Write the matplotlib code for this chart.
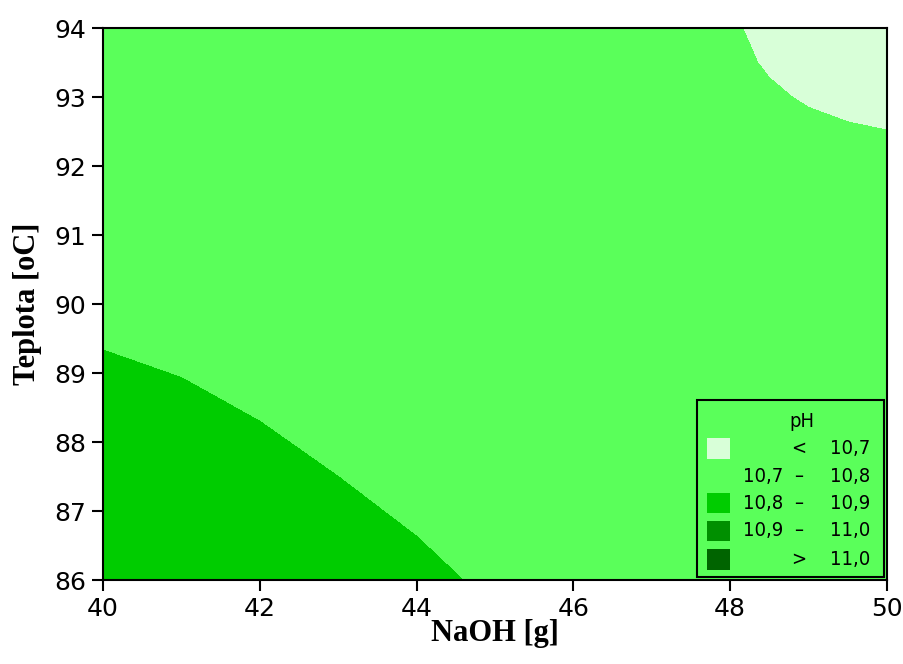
import numpy as np
import matplotlib.pyplot as plt
from matplotlib.patches import Rectangle

# grid of NaOH [g] and teplota [oC]; denser near the top-right corner
naoh = [40, 41, 42, 43, 44, 45, 46, 47, 48, 48.5, 49, 49.5, 50]
teplota = [86, 87, 88, 89, 90, 91, 92, 92.5, 93, 93.5, 94]

# pH at grid nodes, one row per temperature (86 -> 94)
ph = [
    [10.895, 10.888, 10.869, 10.845, 10.819, 10.787, 10.775, 10.770, 10.765, 10.762, 10.760, 10.758, 10.755],
    [10.870, 10.858, 10.839, 10.815, 10.789, 10.780, 10.770, 10.765, 10.760, 10.758, 10.755, 10.752, 10.750],
    [10.840, 10.828, 10.809, 10.785, 10.780, 10.770, 10.765, 10.760, 10.755, 10.752, 10.750, 10.750, 10.750],
    [10.810, 10.798, 10.779, 10.775, 10.770, 10.765, 10.760, 10.755, 10.750, 10.750, 10.750, 10.748, 10.745],
    [10.780, 10.768, 10.770, 10.770, 10.765, 10.760, 10.755, 10.750, 10.750, 10.748, 10.745, 10.742, 10.740],
    [10.760, 10.760, 10.760, 10.760, 10.755, 10.750, 10.750, 10.745, 10.740, 10.740, 10.740, 10.738, 10.735],
    [10.750, 10.750, 10.750, 10.750, 10.745, 10.745, 10.740, 10.738, 10.735, 10.730, 10.728, 10.725, 10.722],
    [10.750, 10.750, 10.750, 10.748, 10.743, 10.742, 10.738, 10.735, 10.730, 10.725, 10.7215, 10.7058, 10.7008],
    [10.750, 10.750, 10.750, 10.745, 10.740, 10.740, 10.735, 10.740, 10.735, 10.7127, 10.6908, 10.685, 10.680],
    [10.750, 10.750, 10.750, 10.743, 10.740, 10.738, 10.733, 10.735, 10.7233, 10.690, 10.675, 10.665, 10.660],
    [10.750, 10.750, 10.750, 10.740, 10.740, 10.735, 10.730, 10.730, 10.7094, 10.680, 10.665, 10.650, 10.640],
]

levels = [10.0, 10.7, 10.8, 10.9, 11.0, 12.0]
colors = ['#d8ffd8', '#5aff5a', '#00cc00', '#008f00', '#006400']
legend_rows = [('', '<', '10,7'), ('10,7', '–', '10,8'), ('10,8', '–', '10,9'),
               ('10,9', '–', '11,0'), ('', '>', '11,0')]

fig = plt.figure(figsize=(9.04, 6.64), dpi=100)
ax = fig.add_axes([0.1139, 0.1265, 0.8673, 0.8313])

ax.contourf(naoh, teplota, ph, levels=levels, colors=colors, antialiased=False)

ax.set_xlim(40, 50)
ax.set_ylim(86, 94)
ax.set_xticks(range(40, 51, 2))
ax.set_yticks(range(86, 95))
ax.tick_params(direction='out', length=8, width=1.5, labelsize=18, pad=4)
for s in ax.spines.values():
    s.set_linewidth(1.5)

ax.set_xlabel('NaOH [g]', fontfamily='Liberation Serif', fontweight='bold', fontsize=22, labelpad=-1)
ax.set_ylabel('Teplota [oC]', fontfamily='Liberation Serif', fontweight='bold', fontsize=22, labelpad=9)

# legend box drawn by hand so the range columns line up
txt = dict(transform=ax.transAxes, va='center', fontsize=14.5, fontstretch='condensed')
ax.add_patch(Rectangle((0.7577, 0.0054), 0.2385, 0.3207, transform=ax.transAxes,
                       fill=False, edgecolor='black', linewidth=1.5, zorder=5))
ax.text(0.8912, 0.2868, 'pH', ha='center', **txt)
row_y = [0.2391, 0.1884, 0.1395, 0.0888, 0.0380]
for (lo, sym, hi), col, y in zip(legend_rows, colors, row_y):
    ax.add_patch(Rectangle((0.770, y - 0.019), 0.0297, 0.038, transform=ax.transAxes,
                           facecolor=col, edgecolor='none', zorder=5))
    ax.text(0.8677, y, lo, ha='right', **txt)
    ax.text(0.887, y, sym, ha='center', **txt)
    ax.text(0.9273, y, hi, ha='left', **txt)

fig.savefig('out.png', dpi=100)
